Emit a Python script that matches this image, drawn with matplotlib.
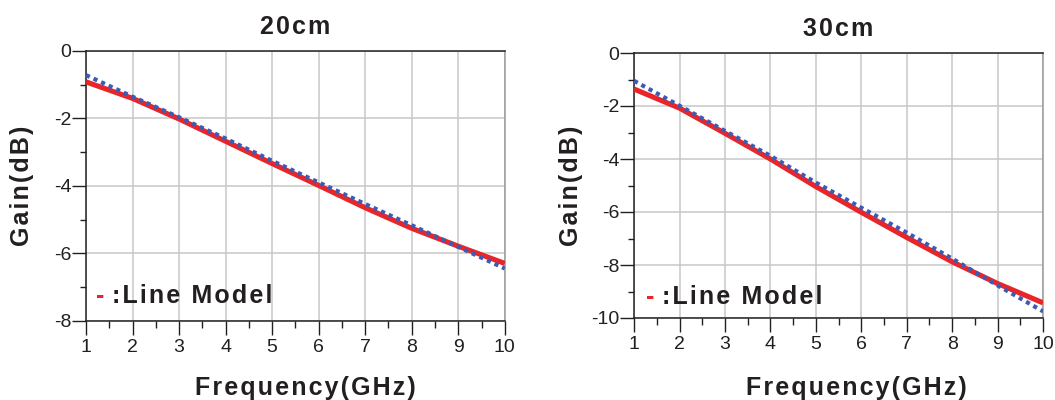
import matplotlib
matplotlib.use("Agg")
import matplotlib.pyplot as plt
from matplotlib.ticker import MultipleLocator

plt.rcParams["axes.unicode_minus"] = False

# measured (red, solid) and model (blue, dotted) gain vs frequency
freq = [1, 2, 3, 4, 5, 6, 7, 8, 9, 10]
meas_20 = [-0.92, -1.41, -2.02, -2.68, -3.34, -3.99, -4.65, -5.26, -5.79, -6.30]
model_20 = [-0.72, -1.36, -1.97, -2.60, -3.26, -3.90, -4.54, -5.17, -5.81, -6.45]
meas_30 = [-1.36, -2.08, -3.03, -4.00, -5.04, -6.01, -6.96, -7.88, -8.70, -9.43]
model_30 = [-1.05, -1.99, -2.94, -3.88, -4.89, -5.84, -6.78, -7.76, -8.77, -9.75]

titles = ["20cm", "30cm"]
ylims = [(-8, 0), (-10, 0)]

BOLD = ["Liberation Sans", "DejaVu Sans"]
NARROW = ["Liberation Sans Narrow", "Liberation Sans", "DejaVu Sans"]
INK = "#231f20"
RED = "#e8262a"
BLUE = "#3b5bb4"
GRID = "#c8c8c8"
BIG = 18


def spaced(s):
    # letter tracking like the original artwork
    return "\u200a".join(s)


def style_axes(ax, ylim, legend_xy):
    ax.set_xlim(1, 10)
    ax.set_ylim(*ylim)
    ax.xaxis.set_major_locator(MultipleLocator(1))
    ax.xaxis.set_minor_locator(MultipleLocator(0.5))
    ax.yaxis.set_major_locator(MultipleLocator(2))
    ax.yaxis.set_minor_locator(MultipleLocator(1))
    ax.grid(True, which="major", color=GRID, lw=1.1)
    ax.set_axisbelow(True)
    ax.tick_params(axis="y", which="major", length=10, width=1, pad=0.5, colors=INK, labelsize=14)
    ax.tick_params(axis="y", which="minor", length=4.3, width=1, colors=INK)
    ax.tick_params(axis="x", which="major", length=10, width=1, pad=3, colors=INK, labelsize=14)
    ax.tick_params(axis="x", which="minor", length=5, width=1, colors=INK)
    for lab in ax.get_xticklabels() + ax.get_yticklabels():
        lab.set_family(NARROW)
    for side in ["left", "bottom", "top"]:
        ax.spines[side].set_color(INK)
        ax.spines[side].set_linewidth(1.1)
    ax.spines["right"].set_color("#9a9a9a")
    ax.spines["right"].set_linewidth(1.1)

    ax.text(legend_xy[0] - 0.038, legend_xy[1], "-", transform=ax.transAxes, color=RED,
            fontsize=BIG, fontweight="bold", family=BOLD, va="center", ha="left")
    ax.text(legend_xy[0], legend_xy[1], spaced(":Line Model"), transform=ax.transAxes,
            color=INK, fontsize=BIG, fontweight="bold", family=BOLD, va="center", ha="left")


fig = plt.figure(figsize=(10.55, 4), dpi=100)
ax1 = fig.add_axes([0.0815, 0.198, 0.397, 0.675])
ax2 = fig.add_axes([0.601, 0.205, 0.3877, 0.6625])

panels = [
    (ax1, meas_20, model_20, (0.062, 0.091), (0.525, -0.205)),
    (ax2, meas_30, model_30, (0.068, 0.079), (0.543, -0.219)),
]
for i, (ax, meas, model, leg, xlab) in enumerate(panels):
    ax.plot(freq, meas, color=RED, lw=3.7, solid_capstyle="butt", zorder=3)
    ax.plot(freq, model, color=BLUE, lw=3.0, linestyle=(0, (1, 1.0)),
            dash_capstyle="butt", zorder=4)
    style_axes(ax, ylims[i], leg)
    ax.set_title(spaced(titles[i]), fontsize=BIG, fontweight="bold", family=BOLD,
                 color=INK, pad=12)
    ax.set_ylabel(spaced("Gain(dB)"), fontsize=BIG, fontweight="bold", family=BOLD, color=INK)
    ax.yaxis.set_label_coords(-0.124, 0.5)
    ax.set_xlabel(spaced("Frequency(GHz)"), fontsize=BIG, fontweight="bold", family=BOLD,
                  color=INK)
    ax.xaxis.set_label_coords(*xlab)

fig.savefig("out.png", dpi=100)
